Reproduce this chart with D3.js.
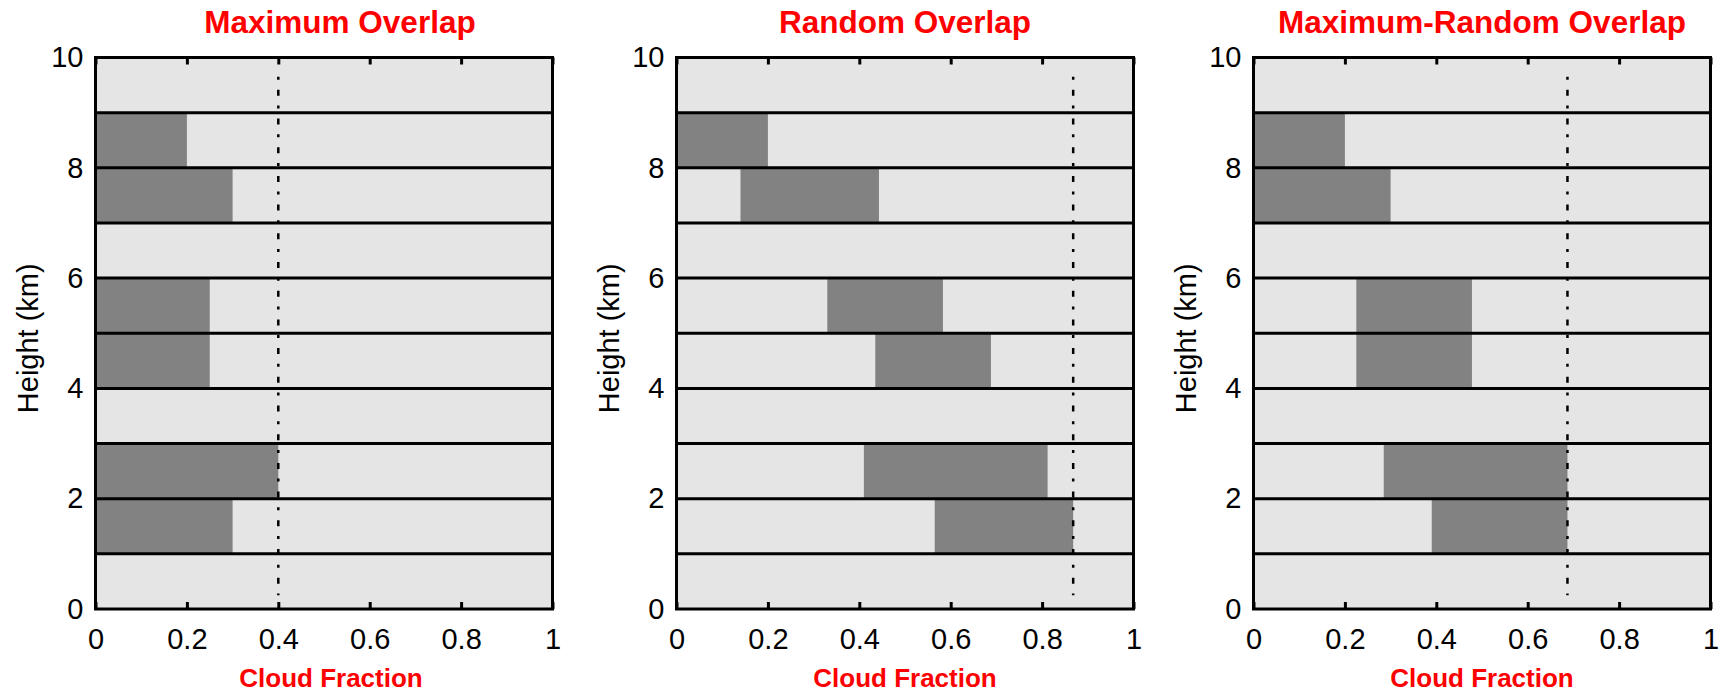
<!DOCTYPE html>
<html>
<head>
<meta charset="utf-8">
<script src="https://cdn.jsdelivr.net/npm/d3@7"></script>
<style>
  body { margin: 0; background: #fff; }
  svg { display: block; }
</style>
</head>
<body>
<div id="chart"></div>
<script>
// panel titles
var panelTitles = ["Maximum Overlap", "Random Overlap", "Maximum-Random Overlap"];
// cloudy layers (bottom of each 1 km layer)
var layerBottoms = [8, 7, 5, 4, 2, 1];
// cloud start / end in cloud fraction, per scheme
var maxStart = [0, 0, 0, 0, 0, 0];
var maxEnd = [0.2, 0.3, 0.25, 0.25, 0.4, 0.3];
var randStart = [0, 0.14, 0.33, 0.435, 0.41, 0.565];
var randEnd = [0.2, 0.443, 0.583, 0.688, 0.812, 0.868];
var mrStart = [0, 0, 0.225, 0.225, 0.285, 0.39];
var mrEnd = [0.2, 0.3, 0.478, 0.478, 0.687, 0.687];
// total cloud cover (dash-dot line)
var totalCover = [0.4, 0.868, 0.687];
var coverLineSpan = [0.25, 9.65];
// layer boundaries
var layerEdges = [1, 2, 3, 4, 5, 6, 7, 8, 9];
// tick values and labels
var xTicks = [0, 0.2, 0.4, 0.6, 0.8, 1];
var xTickLabels = ["0", "0.2", "0.4", "0.6", "0.8", "1"];
var yTicks = [0, 2, 4, 6, 8, 10];
var yTickLabels = ["0", "2", "4", "6", "8", "10"];

var starts = [maxStart, randStart, mrStart];
var ends = [maxEnd, randEnd, mrEnd];

function drawChart() {
    var svgWidth = 1725;
    var svgHeight = 695;
    var panelLeft = [95.5, 676.5, 1253.5];
    var titleShift = [16, 0, 0];
    var labelShift = [7, 0, 0];
    var marginTop = 57.5;
    var chartWidth = 457;
    var chartHeight = 551.5;
    var font = "Liberation Sans, Arial, sans-serif";

    var svg = d3.select("#chart")
        .append("svg")
        .attr("width", svgWidth)
        .attr("height", svgHeight);

    panelTitles.forEach(function(title, p) {
        var g = svg.append("g")
            .attr("transform", `translate(${panelLeft[p]}, ${marginTop})`);

        var xLinearScale = d3.scaleLinear().domain([0, 1]).range([0, chartWidth]);
        var yLinearScale = d3.scaleLinear().domain([0, 10]).range([chartHeight, 0]);

        // background
        g.append("rect")
            .attr("width", chartWidth)
            .attr("height", chartHeight)
            .attr("fill", "#e5e5e5");

        // cloud bars
        var rows = layerBottoms.map(function(b, i) {
            return { base: b, x0: starts[p][i], x1: ends[p][i] };
        });
        g.selectAll("rect.cloud")
            .data(rows)
            .enter()
            .append("rect")
            .attr("class", "cloud")
            .attr("x", d => xLinearScale(d.x0))
            .attr("y", d => yLinearScale(d.base + 1))
            .attr("width", d => xLinearScale(d.x1) - xLinearScale(d.x0))
            .attr("height", d => yLinearScale(d.base) - yLinearScale(d.base + 1))
            .attr("fill", "#828282");

        // layer boundary lines
        g.selectAll("line.layer")
            .data(layerEdges)
            .enter()
            .append("line")
            .attr("class", "layer")
            .attr("x1", 0)
            .attr("x2", chartWidth)
            .attr("y1", d => yLinearScale(d))
            .attr("y2", d => yLinearScale(d))
            .attr("stroke", "#000")
            .attr("stroke-width", 3);

        // total cover dash-dot line
        g.append("line")
            .attr("x1", xLinearScale(totalCover[p]))
            .attr("x2", xLinearScale(totalCover[p]))
            .attr("y1", yLinearScale(coverLineSpan[1]))
            .attr("y2", yLinearScale(coverLineSpan[0]))
            .attr("stroke", "#000")
            .attr("stroke-width", 2.5)
            .attr("stroke-dasharray", "3,10,6,9.7");

        // bottom axis: inner ticks + labels
        var bottomAxis = d3.axisBottom(xLinearScale)
            .tickValues(xTicks)
            .tickFormat((d, i) => xTickLabels[i])
            .tickSize(-7)
            .tickPadding(19);
        var xAxis = g.append("g")
            .attr("transform", `translate(0, ${chartHeight})`)
            .call(bottomAxis);
        xAxis.select(".domain").remove();
        xAxis.selectAll("line").attr("stroke-width", 3);
        xAxis.selectAll("text")
            .attr("font-family", font)
            .attr("font-size", "29px")
            .attr("fill", "#000");

        // top axis: inner ticks only
        var topAxis = d3.axisTop(xLinearScale)
            .tickValues(xTicks)
            .tickFormat("")
            .tickSize(-7);
        var xAxisTop = g.append("g").call(topAxis);
        xAxisTop.select(".domain").remove();
        xAxisTop.selectAll("line").attr("stroke-width", 3);

        // left axis labels
        var leftAxis = d3.axisLeft(yLinearScale)
            .tickValues(yTicks)
            .tickFormat((d, i) => yTickLabels[i])
            .tickSize(0)
            .tickPadding(12);
        var yAxis = g.append("g").call(leftAxis);
        yAxis.select(".domain").remove();
        yAxis.selectAll("text")
            .attr("font-family", font)
            .attr("font-size", "29px")
            .attr("fill", "#000");

        // frame
        g.append("rect")
            .attr("width", chartWidth)
            .attr("height", chartHeight)
            .attr("fill", "none")
            .attr("stroke", "#000")
            .attr("stroke-width", 3);

        // title
        svg.append("text")
            .attr("x", panelLeft[p] + chartWidth / 2 + titleShift[p])
            .attr("y", 33)
            .attr("text-anchor", "middle")
            .attr("font-family", font)
            .attr("font-weight", "bold")
            .attr("font-size", "31.5px")
            .attr("fill", "#ff0000")
            .text(title);

        // x label
        svg.append("text")
            .attr("x", panelLeft[p] + chartWidth / 2 + labelShift[p])
            .attr("y", 687)
            .attr("text-anchor", "middle")
            .attr("font-family", font)
            .attr("font-weight", "bold")
            .attr("font-size", "26px")
            .attr("fill", "#ff0000")
            .text("Cloud Fraction");

        // y label
        svg.append("text")
            .attr("transform", `translate(${panelLeft[p] - 68}, ${marginTop + chartHeight / 2 + 5}) rotate(-90)`)
            .attr("text-anchor", "middle")
            .attr("dy", "0.35em")
            .attr("font-family", font)
            .attr("font-size", "29px")
            .attr("fill", "#000")
            .text("Height (km)");
    });
}

drawChart();
</script>
</body>
</html>
